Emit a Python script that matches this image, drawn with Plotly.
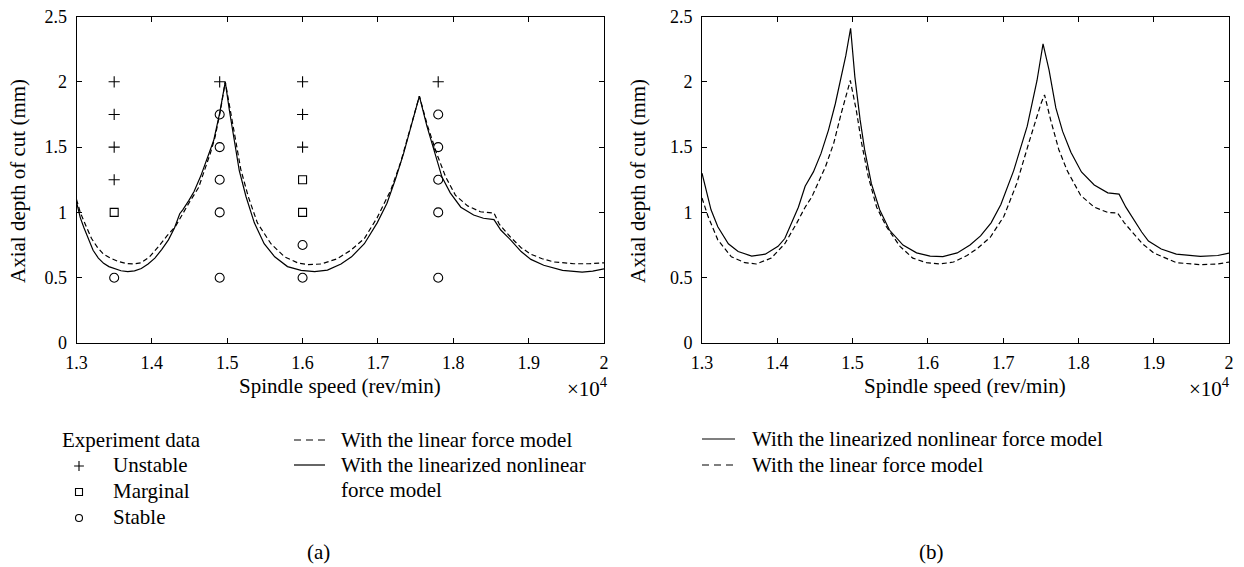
import plotly.graph_objects as go

# ---------------- data ----------------
x_ticks = [1.3, 1.4, 1.5, 1.6, 1.7, 1.8, 1.9, 2.0]
x_ticklabels = ["1.3", "1.4", "1.5", "1.6", "1.7", "1.8", "1.9", "2"]
y_ticks = [0, 0.5, 1, 1.5, 2, 2.5]
y_ticklabels = ["0", "0.5", "1", "1.5", "2", "2.5"]

# (a) linearized nonlinear force model (solid)
a_nl_x = [1.300, 1.305, 1.310, 1.316, 1.322, 1.329, 1.336, 1.343, 1.350, 1.359, 1.368, 1.377,
          1.386, 1.395, 1.404, 1.413, 1.422, 1.430, 1.437, 1.441, 1.449, 1.456, 1.465, 1.474,
          1.482, 1.490, 1.4974, 1.5029, 1.5097, 1.516, 1.525, 1.536, 1.549, 1.563, 1.580,
          1.598, 1.616, 1.633, 1.651, 1.665, 1.682, 1.699, 1.712, 1.723, 1.734, 1.745, 1.755,
          1.765, 1.776, 1.785, 1.796, 1.810, 1.827, 1.840, 1.854, 1.863, 1.876, 1.890, 1.903,
          1.920, 1.945, 1.971, 1.985, 2.000]
a_nl_y = [1.08, 0.96, 0.88, 0.79, 0.71, 0.65, 0.61, 0.585, 0.57, 0.553, 0.546, 0.552,
          0.57, 0.605, 0.65, 0.715, 0.79, 0.88, 0.99, 1.02, 1.09, 1.16, 1.28, 1.42,
          1.55, 1.76, 2.0, 1.78, 1.53, 1.32, 1.12, 0.92, 0.76, 0.66, 0.585,
          0.556, 0.546, 0.558, 0.605, 0.66, 0.76, 0.92, 1.07, 1.25, 1.45, 1.68, 1.89,
          1.66, 1.45, 1.27, 1.15, 1.04, 0.98, 0.955, 0.945, 0.865, 0.79, 0.70, 0.64,
          0.595, 0.556, 0.543, 0.55, 0.568]

# (a) linear force model (dashed)
a_lin_x = [1.300, 1.305, 1.313, 1.320, 1.328, 1.336, 1.345, 1.355, 1.365, 1.375, 1.386, 1.397,
           1.409, 1.420, 1.431, 1.438, 1.445, 1.450, 1.462, 1.470, 1.478, 1.484, 1.491, 1.4974,
           1.504, 1.5115, 1.518, 1.528, 1.540, 1.558, 1.576, 1.594, 1.607, 1.625, 1.646, 1.664,
           1.682, 1.699, 1.717, 1.730, 1.745, 1.755, 1.766, 1.778, 1.790, 1.803, 1.819, 1.836,
           1.854, 1.861, 1.876, 1.890, 1.903, 1.918, 1.934, 1.960, 1.980, 2.000]
a_lin_y = [1.10, 1.00, 0.89, 0.80, 0.73, 0.68, 0.65, 0.625, 0.61, 0.605, 0.615, 0.66,
           0.74, 0.82, 0.89, 0.96, 1.04, 1.08, 1.19, 1.32, 1.46, 1.58, 1.78, 2.0,
           1.78, 1.53, 1.33, 1.12, 0.92, 0.76, 0.66, 0.612, 0.60, 0.605, 0.645, 0.71,
           0.80, 0.96, 1.17, 1.38, 1.68, 1.89, 1.66, 1.45, 1.27, 1.13, 1.05, 1.005,
           0.995, 0.91, 0.81, 0.73, 0.68, 0.645, 0.62, 0.607, 0.607, 0.614]

# (b) linearized nonlinear force model (solid)
b_nl_x = [1.300, 1.306, 1.312, 1.321, 1.335, 1.348, 1.366, 1.384, 1.401, 1.410, 1.419, 1.428,
          1.437, 1.448, 1.458, 1.468, 1.477, 1.485, 1.491, 1.4974, 1.503, 1.510, 1.516, 1.525,
          1.536, 1.549, 1.567, 1.585, 1.603, 1.620, 1.639, 1.656, 1.670, 1.684, 1.697, 1.714,
          1.732, 1.745, 1.753, 1.761, 1.770, 1.779, 1.790, 1.804, 1.821, 1.839, 1.854, 1.863,
          1.874, 1.884, 1.893, 1.910, 1.930, 1.962, 1.985, 2.000]
b_nl_y = [1.30, 1.17, 1.02, 0.89, 0.76, 0.70, 0.666, 0.68, 0.74, 0.80, 0.92, 1.04,
          1.20, 1.31, 1.45, 1.63, 1.83, 2.03, 2.20, 2.41, 2.04, 1.71, 1.48, 1.22,
          1.02, 0.865, 0.75, 0.69, 0.665, 0.662, 0.69, 0.75, 0.82, 0.92, 1.06, 1.32,
          1.66, 2.01, 2.29, 2.09, 1.80, 1.62, 1.46, 1.31, 1.21, 1.15, 1.14, 1.04,
          0.94, 0.85, 0.78, 0.72, 0.68, 0.663, 0.67, 0.688]

# (b) linear force model (dashed)
b_lin_x = [1.300, 1.308, 1.321, 1.339, 1.357, 1.372, 1.392, 1.410, 1.426, 1.437, 1.446, 1.455,
           1.464, 1.475, 1.485, 1.497, 1.505, 1.512, 1.521, 1.532, 1.545, 1.563, 1.580, 1.598,
           1.616, 1.634, 1.652, 1.665, 1.683, 1.701, 1.718, 1.734, 1.750, 1.755, 1.763, 1.774,
           1.785, 1.803, 1.821, 1.839, 1.852, 1.861, 1.874, 1.885, 1.900, 1.930, 1.962, 1.985,
           2.000]
b_lin_y = [1.11, 0.97, 0.79, 0.66, 0.615, 0.605, 0.65, 0.76, 0.92, 1.04, 1.12, 1.24,
           1.35, 1.53, 1.76, 2.01, 1.78, 1.53, 1.27, 1.04, 0.89, 0.74, 0.65, 0.615,
           0.605, 0.62, 0.67, 0.72, 0.81, 0.97, 1.22, 1.53, 1.83, 1.90, 1.71, 1.48,
           1.32, 1.13, 1.04, 1.00, 0.995, 0.92, 0.83, 0.76, 0.69, 0.615, 0.60, 0.605,
           0.62]

# experiment data (a)
unstable_x = [1.35, 1.35, 1.35, 1.35, 1.49, 1.60, 1.60, 1.60, 1.78]
unstable_y = [1.25, 1.5, 1.75, 2.0, 2.0, 1.5, 1.75, 2.0, 2.0]
marginal_x = [1.35, 1.60, 1.60]
marginal_y = [1.0, 1.0, 1.25]
stable_x = [1.35, 1.49, 1.49, 1.49, 1.49, 1.49, 1.60, 1.60, 1.78, 1.78, 1.78, 1.78, 1.78]
stable_y = [0.5, 0.5, 1.0, 1.25, 1.5, 1.75, 0.5, 0.75, 0.5, 1.0, 1.25, 1.5, 1.75]

# ---------------- layout constants ----------------
W, H = 1244, 567
FONT = "Liberation Serif"
BLACK = "#000000"
LW = 1.2
DASH = "5px,3px"
TXT = 21
TICK = 18


def px(x):
    return x / W


def py(y):
    return 1 - y / H


left_dom = [px(76.5), px(604)]
right_dom = [px(702), px(1229)]
y_dom = [py(343), py(16.5)]

fig = go.Figure()

# panel (a)
fig.add_trace(go.Scatter(x=a_lin_x, y=a_lin_y, mode="lines",
                         line=dict(color=BLACK, width=LW, dash=DASH), xaxis="x", yaxis="y"))
fig.add_trace(go.Scatter(x=a_nl_x, y=a_nl_y, mode="lines",
                         line=dict(color=BLACK, width=LW), xaxis="x", yaxis="y"))
fig.add_trace(go.Scatter(x=unstable_x, y=unstable_y, mode="markers",
                         marker=dict(symbol="cross-thin-open", size=8, color=BLACK,
                                     line=dict(color=BLACK, width=1.1)), xaxis="x", yaxis="y"))
fig.add_trace(go.Scatter(x=marginal_x, y=marginal_y, mode="markers",
                         marker=dict(symbol="square-open", size=8, color=BLACK,
                                     line=dict(color=BLACK, width=1.1)), xaxis="x", yaxis="y"))
fig.add_trace(go.Scatter(x=stable_x, y=stable_y, mode="markers",
                         marker=dict(symbol="circle-open", size=9, color=BLACK,
                                     line=dict(color=BLACK, width=1.1)), xaxis="x", yaxis="y"))

# panel (b)
fig.add_trace(go.Scatter(x=b_lin_x, y=b_lin_y, mode="lines",
                         line=dict(color=BLACK, width=LW, dash=DASH), xaxis="x2", yaxis="y2"))
fig.add_trace(go.Scatter(x=b_nl_x, y=b_nl_y, mode="lines",
                         line=dict(color=BLACK, width=LW), xaxis="x2", yaxis="y2"))

# legend glyphs on a full-figure pixel axis
LDASH = "7px,5px"
lx = [294, 325]
fig.add_trace(go.Scatter(x=lx, y=[440, 440], mode="lines",
                         line=dict(color=BLACK, width=LW, dash=LDASH), xaxis="x3", yaxis="y3"))
fig.add_trace(go.Scatter(x=lx, y=[465, 465], mode="lines",
                         line=dict(color=BLACK, width=LW), xaxis="x3", yaxis="y3"))
rx = [702, 735]
fig.add_trace(go.Scatter(x=rx, y=[439, 439], mode="lines",
                         line=dict(color=BLACK, width=LW), xaxis="x3", yaxis="y3"))
fig.add_trace(go.Scatter(x=rx, y=[465, 465], mode="lines",
                         line=dict(color=BLACK, width=LW, dash=LDASH), xaxis="x3", yaxis="y3"))
fig.add_trace(go.Scatter(x=[79], y=[466], mode="markers",
                         marker=dict(symbol="cross-thin-open", size=7, color=BLACK,
                                     line=dict(color=BLACK, width=1.1)), xaxis="x3", yaxis="y3"))
fig.add_trace(go.Scatter(x=[79], y=[492], mode="markers",
                         marker=dict(symbol="square-open", size=7, color=BLACK,
                                     line=dict(color=BLACK, width=1.1)), xaxis="x3", yaxis="y3"))
fig.add_trace(go.Scatter(x=[79], y=[518], mode="markers",
                         marker=dict(symbol="circle-open", size=7, color=BLACK,
                                     line=dict(color=BLACK, width=1.1)), xaxis="x3", yaxis="y3"))

axis_common = dict(showline=True, linecolor=BLACK, linewidth=1, mirror="ticks",
                   ticks="inside", ticklen=5, tickwidth=1, tickcolor=BLACK,
                   showgrid=False, zeroline=False, automargin=False,
                   tickfont=dict(family=FONT, size=TICK, color=BLACK))

fig.update_layout(
    width=W, height=H,
    margin=dict(l=0, r=0, t=0, b=0),
    paper_bgcolor="white", plot_bgcolor="rgba(0,0,0,0)",
    showlegend=False,
    xaxis=dict(domain=left_dom, range=[1.3, 2.0], tickvals=x_ticks, ticktext=x_ticklabels,
               anchor="y", ticklabelstandoff=3, **axis_common),
    yaxis=dict(domain=y_dom, range=[0, 2.5], tickvals=y_ticks, ticktext=y_ticklabels,
               anchor="x", ticklabelstandoff=5, **axis_common),
    xaxis2=dict(domain=right_dom, range=[1.3, 2.0], tickvals=x_ticks, ticktext=x_ticklabels,
                anchor="y2", ticklabelstandoff=3, **axis_common),
    yaxis2=dict(domain=y_dom, range=[0, 2.5], tickvals=y_ticks, ticktext=y_ticklabels,
                anchor="x2", ticklabelstandoff=5, **axis_common),
    xaxis3=dict(domain=[0, 1], range=[0, W], visible=False, anchor="y3", fixedrange=True),
    yaxis3=dict(domain=[0, 1], range=[H, 0], visible=False, anchor="x3", fixedrange=True),
)


def ann(x, y, text, xanchor="center", size=TXT, angle=0):
    fig.add_annotation(x=px(x), y=py(y), xref="paper", yref="paper", text=text,
                       showarrow=False, xanchor=xanchor, yanchor="middle", textangle=angle,
                       font=dict(family=FONT, size=size, color=BLACK))


# axis titles
ann(18, 181, "Axial depth of cut (mm)", angle=-90)
ann(638, 181, "Axial depth of cut (mm)", angle=-90)
ann(340, 386, "Spindle speed (rev/min)")
ann(965, 386, "Spindle speed (rev/min)")
ann(610, 387, "×10<sup>4</sup>", xanchor="right")
ann(1232, 387, "×10<sup>4</sup>", xanchor="right")

# legend (a)
ann(60, 440, "Experiment data", xanchor="left")
ann(111, 465, "Unstable", xanchor="left")
ann(111, 491, "Marginal", xanchor="left")
ann(111, 517, "Stable", xanchor="left")
ann(339, 440, "With the linear force model", xanchor="left")
ann(339, 465, "With the linearized nonlinear", xanchor="left")
ann(339, 490, "force model", xanchor="left")

# legend (b)
ann(750, 439, "With the linearized nonlinear force model", xanchor="left")
ann(750, 465, "With the linear force model", xanchor="left")

# panel labels
ann(318, 552, "(a)")
ann(932, 552, "(b)")

fig.write_html("out.html", config={"displayModeBar": False},
               post_script="document.body.style.margin='0';document.body.style.padding='0';"
                           "document.body.style.overflow='hidden';")
